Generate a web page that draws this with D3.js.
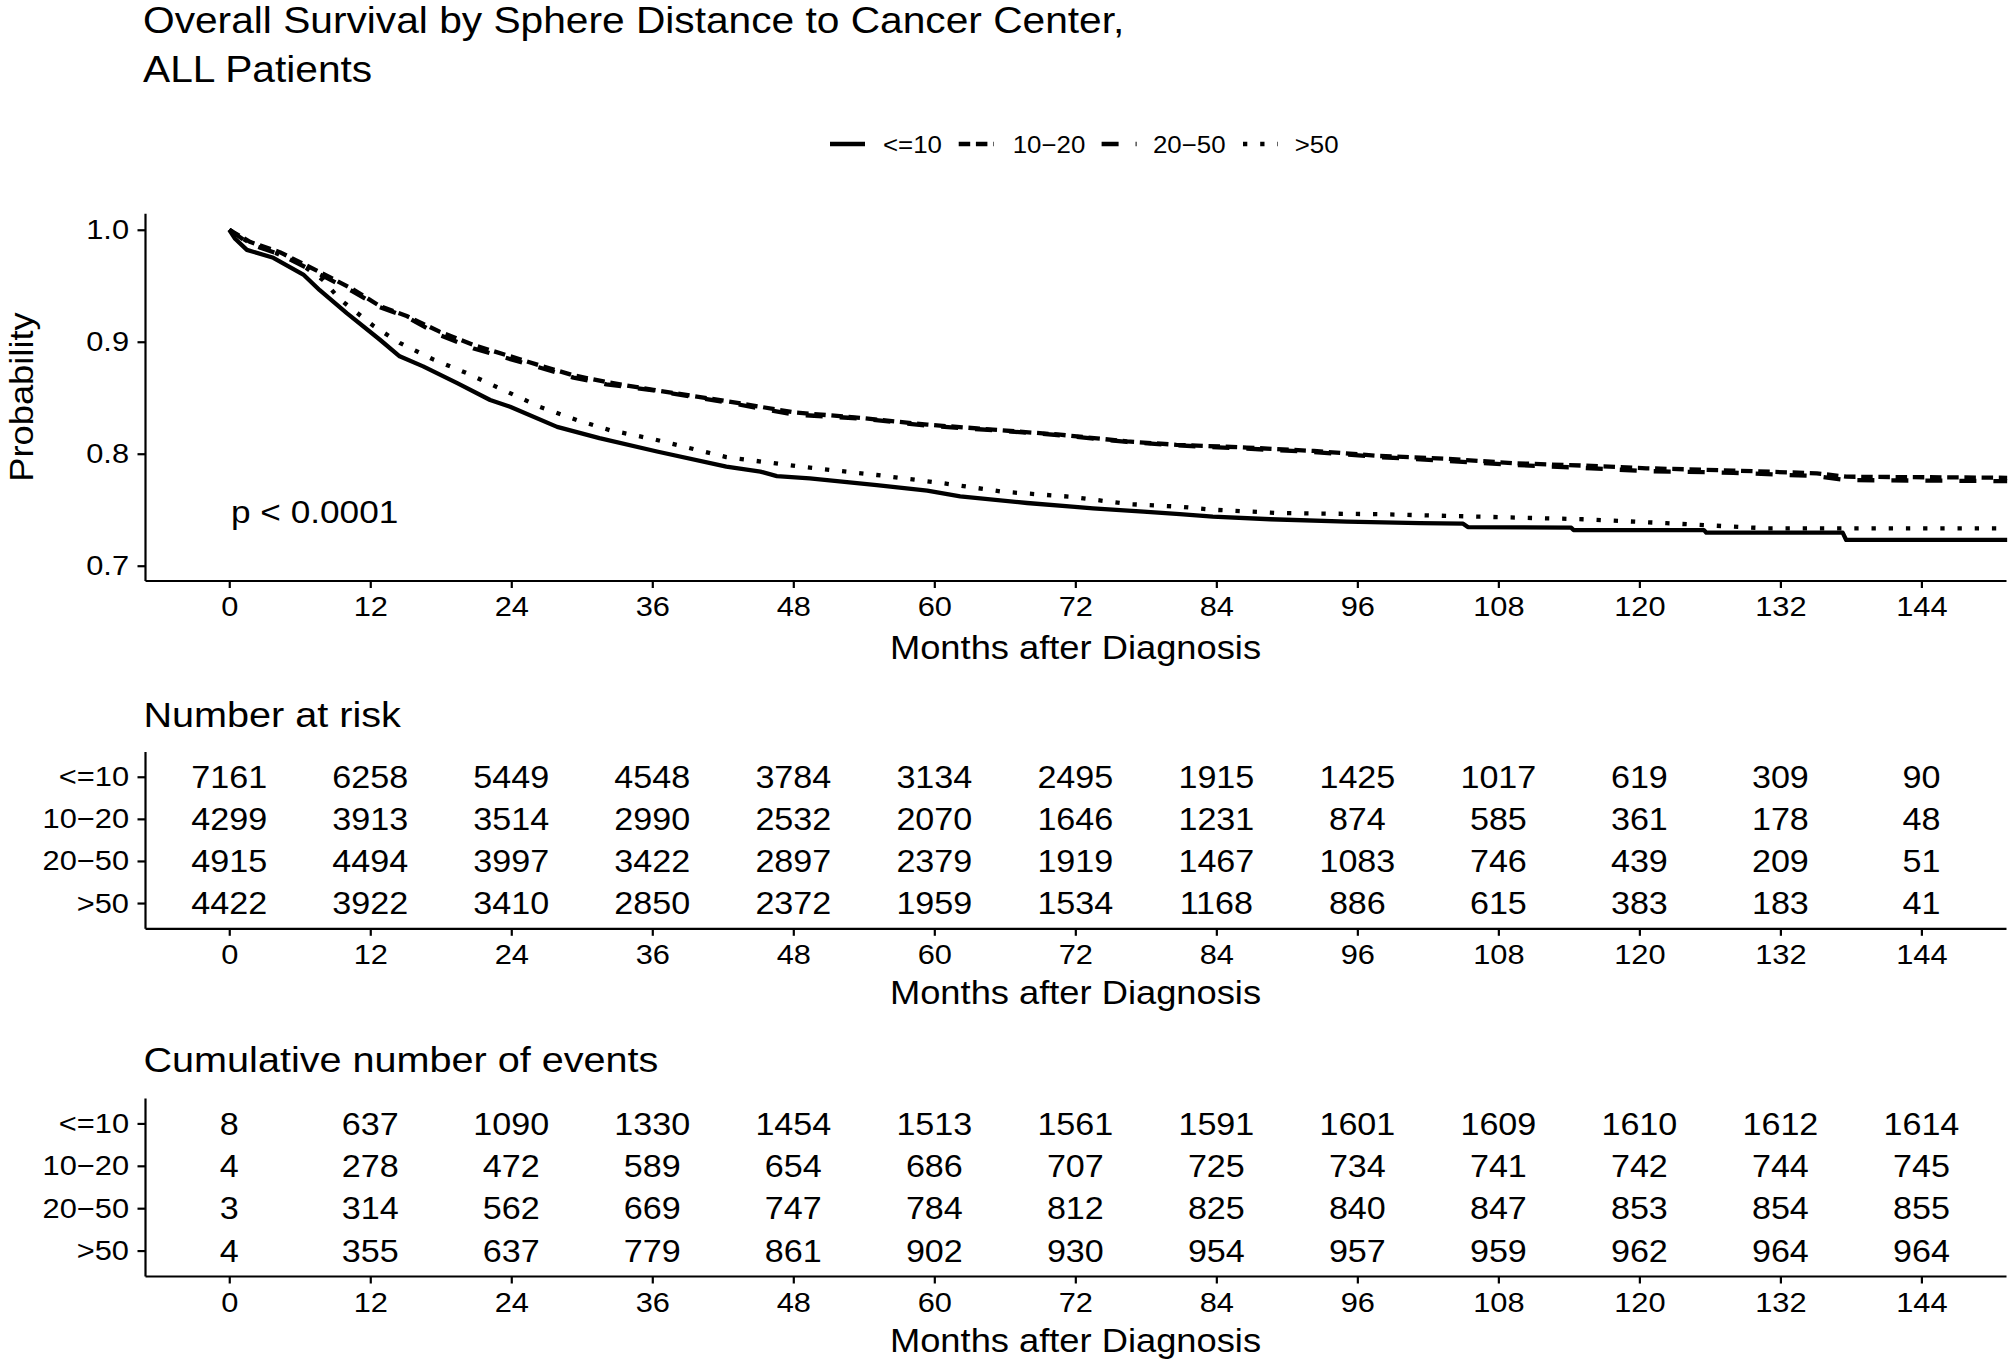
<!DOCTYPE html>
<html>
<head>
<meta charset="utf-8">
<script src="https://cdn.jsdelivr.net/npm/d3@7"></script>
<style>
  html, body { margin: 0; padding: 0; background: #fff; }
  svg { display: block; }
  text { font-family: "Liberation Sans", Arial, Helvetica, sans-serif; fill: #000; }
</style>
</head>
<body>
<svg id="chart" width="2010" height="1363"></svg>
<script>
// ---------------- DATA ----------------
const titleLines = ["Overall Survival by Sphere Distance to Cancer Center,", "ALL Patients"];
const groups = ["<=10", "10\u221220", "20\u221250", ">50"];
const months = [0, 12, 24, 36, 48, 60, 72, 84, 96, 108, 120, 132, 144];
const probTicks = [0.7, 0.8, 0.9, 1.0];
const pValueLabel = "p < 0.0001";
const xTitle = "Months after Diagnosis";
const yTitle = "Probability";

// Kaplan-Meier curves: [month, survival probability]
const survLE10 = [[0,1.0],[0.5,0.992],[1.5,0.982],[3.75,0.975],[6.3,0.96],[7.7,0.946],[10,0.9255],[12.8,0.902],[14.5,0.887],[16.5,0.878],[19.4,0.863],[22.2,0.848],[23.9,0.842],[27.9,0.824],[31.5,0.814],[36.4,0.802],[42.3,0.7885],[45.2,0.784],[46.6,0.780],[49.4,0.778],[55.1,0.772],[59.4,0.767],[62.2,0.762],[67.9,0.756],[73.5,0.7513],[77.8,0.7483],[80.9,0.746],[83.7,0.7438],[88.6,0.7415],[95.1,0.7393],[101.3,0.738],[105.0,0.7375],[105.4,0.7345],[114.2,0.734],[114.4,0.7318],[125.5,0.7318],[125.7,0.7295],[137.3,0.7295],[137.6,0.723],[151.3,0.723]];
const surv1020 = [[0,1.0],[1.8,0.989],[4.3,0.980],[6.6,0.968],[8.3,0.959],[10.5,0.947],[12.8,0.932],[15.1,0.923],[17.9,0.909],[20.8,0.897],[23.6,0.888],[26.4,0.879],[29.3,0.870],[32.1,0.864],[36.1,0.857],[42.3,0.847],[48,0.837],[53.7,0.832],[59.4,0.826],[65,0.8215],[70.7,0.817],[76.4,0.811],[80.6,0.808],[86.6,0.8055],[92.3,0.8025],[97.9,0.798],[103.6,0.7955],[109.3,0.7915],[115,0.7895],[120.6,0.787],[128,0.785],[135.1,0.7825],[137.6,0.7795],[151.3,0.7785]];
const surv2050 = [[0,1.0],[1.8,0.987],[4.3,0.978],[6.6,0.966],[8.3,0.957],[10.5,0.945],[12.8,0.931],[15.1,0.922],[17.9,0.906],[20.8,0.894],[23.6,0.8855],[26.4,0.877],[29.3,0.868],[32.1,0.862],[36.1,0.8565],[42.3,0.846],[48,0.835],[53.7,0.8315],[59.4,0.825],[65,0.821],[70.7,0.8165],[76.4,0.8105],[80.6,0.8075],[86.6,0.8045],[92.3,0.8015],[97.9,0.797],[103.6,0.7935],[109.3,0.790],[115,0.7875],[120.6,0.7845],[128,0.783],[135.1,0.780],[137.6,0.7765],[151.3,0.7755]];
const survGT50 = [[0,1.0],[1,0.993],[2,0.987],[4,0.979],[6,0.97],[8,0.955],[9.4,0.938],[12.3,0.914],[14.5,0.899],[17.4,0.884],[20.2,0.872],[23,0.8585],[26.4,0.842],[29.6,0.830],[32.4,0.821],[36.1,0.813],[42.3,0.797],[48.6,0.7885],[55.1,0.781],[60.8,0.7736],[65.9,0.766],[71.5,0.7617],[76.6,0.755],[80.9,0.7527],[83.7,0.750],[89.4,0.747],[97.9,0.746],[106.4,0.7438],[115.2,0.7415],[122.3,0.738],[130.8,0.7334],[151.3,0.7334]];

// Number at risk
const riskLE10 = [7161,6258,5449,4548,3784,3134,2495,1915,1425,1017,619,309,90];
const risk1020 = [4299,3913,3514,2990,2532,2070,1646,1231,874,585,361,178,48];
const risk2050 = [4915,4494,3997,3422,2897,2379,1919,1467,1083,746,439,209,51];
const riskGT50 = [4422,3922,3410,2850,2372,1959,1534,1168,886,615,383,183,41];

// Cumulative number of events
const evLE10 = [8,637,1090,1330,1454,1513,1561,1591,1601,1609,1610,1612,1614];
const ev1020 = [4,278,472,589,654,686,707,725,734,741,742,744,745];
const ev2050 = [3,314,562,669,747,784,812,825,840,847,853,854,855];
const evGT50 = [4,355,637,779,861,902,930,954,957,959,962,964,964];

// ---------------- STYLE / LAYOUT ----------------
const SX = 1.1;          // horizontal stretch of glyphs in the reference
const LW = 2.2;          // axis line width
const CURVE_W = 4.3;
const dashes = ["none", "11.5,5.7", "17,17", "4.3,12.9"];
const curves = [survLE10, surv1020, surv2050, survGT50];

const svg = d3.select("#chart");

function txt(parent, x, y, s, size, anchor) {
  return parent.append("text")
    .attr("transform", `translate(${x},${y}) scale(${SX},1)`)
    .attr("font-size", size)
    .attr("text-anchor", anchor || "start")
    .text(s);
}

// x scale shared by all panels
const x = d3.scaleLinear().domain([-7.17, 151.2]).range([145, 2006]);

function bottomAxis(g, yPos) {
  const ax = g.append("g").attr("transform", `translate(0,${yPos})`)
    .call(d3.axisBottom(x).tickValues(months).tickSize(7.5).tickSizeOuter(0).tickPadding(8.3).tickFormat(d3.format("d")));
  ax.select(".domain").attr("stroke", "#000").attr("stroke-width", LW);
  ax.selectAll(".tick line").attr("stroke", "#000").attr("stroke-width", LW);
  ax.selectAll(".tick text").attr("font-size", 28).attr("fill", "#000")
    .attr("font-family", "Liberation Sans, Arial, sans-serif")
    .attr("transform", `scale(${SX},1)`);
  return ax;
}

function leftAxis(g, scale, values, fmt, fontSize) {
  const ax = g.append("g").attr("transform", `translate(145,0)`)
    .call(d3.axisLeft(scale).tickValues(values).tickSize(7.5).tickSizeOuter(0).tickPadding(8.5).tickFormat(fmt));
  ax.select(".domain").attr("stroke", "#000").attr("stroke-width", LW);
  ax.selectAll(".tick line").attr("stroke", "#000").attr("stroke-width", LW);
  ax.selectAll(".tick text").attr("font-size", fontSize).attr("fill", "#000")
    .attr("font-family", "Liberation Sans, Arial, sans-serif")
    .attr("x", -16 / SX)
    .attr("transform", `scale(${SX},1)`);
  return ax;
}

// ---------------- TITLE ----------------
txt(svg, 143, 33, titleLines[0], 37);
txt(svg, 143, 82, titleLines[1], 37);

// ---------------- LEGEND ----------------
const legendKeys = [[830, 883], [958.7, 1012.7], [1101.6, 1153], [1243, 1294.7]];
const legend = svg.append("g");
groups.forEach((gname, i) => {
  legend.append("line")
    .attr("x1", legendKeys[i][0]).attr("x2", legendKeys[i][0] + 35)
    .attr("y1", 144).attr("y2", 144)
    .attr("stroke", "#000").attr("stroke-width", CURVE_W)
    .attr("stroke-dasharray", dashes[i]).attr("stroke-linecap", "butt");
  txt(legend, legendKeys[i][1], 152.5, gname, 23.5);
});

// ---------------- MAIN PLOT ----------------
const y = d3.scaleLinear().domain([0.6868, 1.0147]).range([580.5, 213.3]);
const main = svg.append("g");
const line = d3.line().x(d => x(d[0])).y(d => y(d[1]));

curves.forEach((c, i) => {
  main.append("path").datum(c)
    .attr("d", line)
    .attr("fill", "none").attr("stroke", "#000")
    .attr("stroke-width", CURVE_W)
    .attr("stroke-dasharray", dashes[i])
    .attr("stroke-linecap", "butt")
    .attr("stroke-linejoin", "round");
});

leftAxis(main, y, probTicks, d3.format(".1f"), 28);
bottomAxis(main, 580.5);
txt(main, 1075.5, 659, xTitle, 33, "middle");
main.append("text")
  .attr("transform", `translate(33,397) rotate(-90) scale(${SX},1)`)
  .attr("font-size", 33).attr("text-anchor", "middle").text(yTitle);
txt(main, 231, 523, pValueLabel, 32);

// ---------------- TABLES ----------------
function table(title, rows, titleBase, top, bottom) {
  const g = svg.append("g");
  txt(g, 143.5, titleBase, title, 36);
  const ry = d3.scaleLinear().domain([-0.6, 3.6]).range([top, bottom]);
  rows.forEach((vals, r) => {
    vals.forEach((v, k) => {
      g.append("text")
        .attr("transform", `translate(${x(months[k])},${ry(r)}) scale(${SX},1)`)
        .attr("dy", "0.36em")
        .attr("font-size", 31)
        .attr("text-anchor", "middle")
        .text(v);
    });
  });
  leftAxis(g, ry, [0, 1, 2, 3], i => groups[i], 28);
  bottomAxis(g, bottom);
  txt(g, 1075.5, bottom + 76, xTitle, 33, "middle");
}

table("Number at risk", [riskLE10, risk1020, risk2050, riskGT50], 726.7, 751.5, 928.3);
table("Cumulative number of events", [evLE10, ev1020, ev2050, evGT50], 1071.7, 1098, 1276);
</script>
</body>
</html>
